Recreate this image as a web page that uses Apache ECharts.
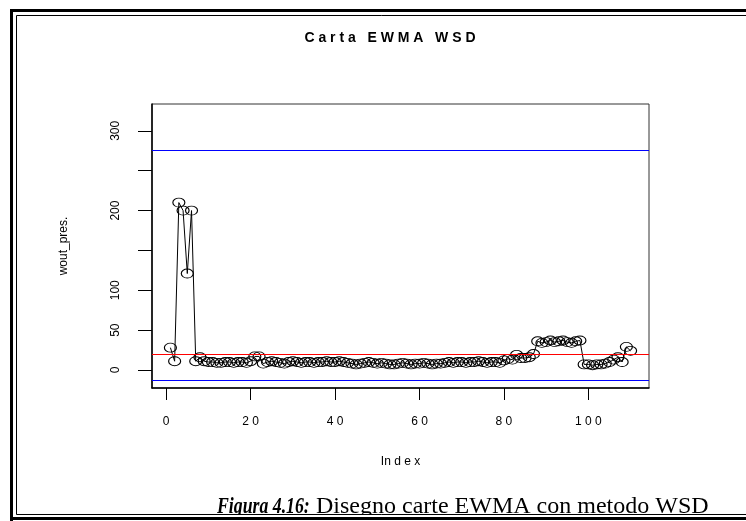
<!DOCTYPE html>
<html>
<head>
<meta charset="utf-8">
<script src="https://cdn.jsdelivr.net/npm/echarts@6/dist/echarts.min.js"></script>
<style>
  html, body { margin: 0; padding: 0; background: #fff; }
  #chart { width: 746px; height: 521px; }
</style>
</head>
<body>
<div id="chart"></div>
<script>
// valori wout_pres. (indice 1..110)
const woutPres = [
  28, 11, 210, 200, 121, 200, 11, 16, 11, 10,
  10, 9, 9, 10, 10, 9, 10, 10, 9, 11,
  17, 17, 8, 10, 11, 10, 9, 8, 10, 11,
  10, 9, 10, 10, 9, 10, 10, 11, 10, 10,
  11, 10, 9, 8, 7, 8, 9, 10, 9, 8,
  9, 8, 7, 7, 8, 9, 8, 7, 8, 8,
  9, 8, 7, 8, 8, 9, 10, 9, 10, 10,
  9, 10, 10, 11, 10, 9, 10, 10, 9, 12,
  14, 13, 19, 15, 15, 16, 20, 36, 34, 35,
  37, 35, 36, 37, 35, 34, 36, 37, 7, 7,
  6, 7, 7, 8, 10, 13, 16, 10, 29, 24
]
// limiti della carta
const ucl = 276
const centerLine = 19.5
const lcl = -12.5

const xTicks = [0, 20, 40, 60, 80, 100]
const yTicks = [0, 50, 100, 150, 200, 250, 300]
const yLabels = [0, 50, 100, 200, 300]

const chart = echarts.init(document.getElementById('chart'))

const spaced = v => String(v).split('').join(' ')
const serif = 'Liberation Serif, Times New Roman, serif'

const option = {
  animation: false,
  backgroundColor: '#fff',
  textStyle: { fontFamily: 'Liberation Sans, Arial, sans-serif', color: '#000' },
  grid: {
    left: 152, right: 97, top: 104, bottom: 133,
    show: true, borderColor: '#333', borderWidth: 1
  },
  xAxis: {
    type: 'value',
    min: -3.36,
    max: 114.36,
    name: 'In d e x',
    nameLocation: 'middle',
    nameGap: 68,
    nameTextStyle: { fontSize: 12, color: '#000' },
    splitLine: { show: false },
    axisLine: { show: true, onZero: false, lineStyle: { color: '#000', width: 1.5 } },
    axisTick: { show: true, length: 12, customValues: xTicks, lineStyle: { color: '#000' } },
    axisLabel: {
      customValues: xTicks, margin: 28, fontSize: 12, color: '#000',
      formatter: spaced
    }
  },
  yAxis: {
    type: 'value',
    min: -22.6,
    max: 333.7,
    name: 'wout_pres.',
    nameLocation: 'middle',
    nameGap: 82,
    nameRotate: 90,
    nameTextStyle: { fontSize: 12, color: '#000' },
    splitLine: { show: false },
    axisLine: { show: true, onZero: false, lineStyle: { color: '#000', width: 1.5 } },
    axisTick: { show: true, length: 14, customValues: yTicks, lineStyle: { color: '#000' } },
    axisLabel: { customValues: yLabels, rotate: 90, margin: 30, fontSize: 12, color: '#000' }
  },
  series: [{
    type: 'line',
    data: woutPres.map((v, i) => [i + 1, v]),
    symbol: 'circle',
    symbolSize: [12, 9],
    showAllSymbol: true,
    lineStyle: { color: '#000', width: 1 },
    itemStyle: { color: 'rgba(0,0,0,0)', borderColor: '#000', borderWidth: 1 },
    markLine: {
      silent: true,
      symbol: 'none',
      label: { show: false },
      data: [
        { yAxis: ucl, lineStyle: { color: '#0000ff', width: 1, type: 'solid', opacity: 1 } },
        { yAxis: centerLine, lineStyle: { color: '#ff0000', width: 1, type: 'solid', opacity: 1 } },
        { yAxis: lcl, lineStyle: { color: '#0000ff', width: 1, type: 'solid', opacity: 1 } }
      ]
    }
  }],
  graphic: [
    {
      type: 'text', x: 390, y: 31,
      style: {
        text: 'C a r t a   E W M A   W S D', textAlign: 'center',
        font: 'bold 14px Liberation Sans, Arial, sans-serif', fill: '#000'
      }
    },
    // didascalia
    {
      type: 'text', x: 217, y: 495, scaleX: 0.74,
      style: {
        text: 'Figura 4.16:', verticalAlign: 'top',
        font: 'bold italic 24px ' + serif, fill: '#000'
      }
    },
    {
      type: 'text', x: 316, y: 495,
      style: {
        text: 'Disegno carte EWMA con metodo WSD', verticalAlign: 'top',
        font: '24px ' + serif, fill: '#000'
      }
    },
    // copertura sotto la didascalia e cornice doppia
    { type: 'rect', shape: { x: 0, y: 514, width: 746, height: 7 }, style: { fill: '#fff' } },
    { type: 'rect', shape: { x: 0, y: 0, width: 746, height: 9 }, style: { fill: '#fff' } },
    {
      type: 'polyline',
      shape: { points: [[11.5, 521], [11.5, 10.5], [746, 10.5]] },
      style: { stroke: '#000', lineWidth: 3, fill: null }
    },
    {
      type: 'polyline',
      shape: { points: [[16.5, 514.5], [16.5, 15.5], [746, 15.5]] },
      style: { stroke: '#000', lineWidth: 1, fill: null }
    },
    {
      type: 'polyline',
      shape: { points: [[11.5, 518.5], [746, 518.5]] },
      style: { stroke: '#000', lineWidth: 3, fill: null }
    },
    {
      type: 'polyline',
      shape: { points: [[16.5, 514.5], [746, 514.5]] },
      style: { stroke: '#000', lineWidth: 1, fill: null }
    }
  ]
}

chart.setOption(option)
</script>
</body>
</html>
